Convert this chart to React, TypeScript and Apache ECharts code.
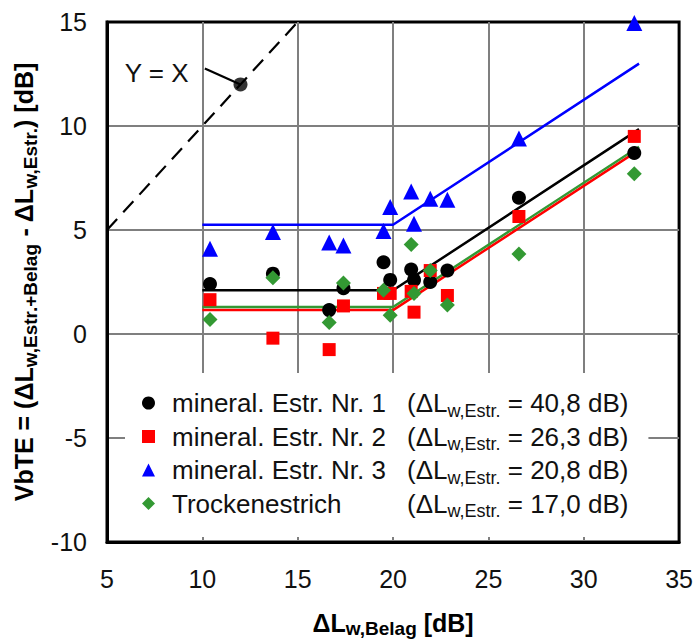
import React, { useEffect, useRef } from "react";
import * as echarts from "echarts";

// ---- data ----
const belagX = [10.4, 13.7, 16.65, 17.4, 19.5, 19.85, 20.95, 21.1, 21.95, 22.85, 26.6, 32.65];
const estrich1 = [2.4, 2.9, 1.15, 2.2, 3.45, 2.6, 3.1, 2.6, 2.5, 3.05, 6.55, 8.7];
const estrich2 = [1.65, -0.2, -0.75, 1.35, 1.95, 1.95, 2.05, 1.05, 3.05, 1.85, 5.65, 9.5];
const estrich3 = [4.1, 4.9, 4.4, 4.25, 4.95, 6.1, 6.85, 5.3, 6.5, 6.45, 9.4, 14.95];
const trocken = [0.7, 2.7, 0.55, 2.45, 2.1, 0.9, 4.3, 1.95, 3.05, 1.4, 3.85, 7.7];

const trend1 = [[10, 2.1], [20, 2.1], [32.9, 9.85]];
const trend2 = [[10, 1.15], [20, 1.15], [32.9, 8.85]];
const trend3 = [[10, 5.25], [20, 5.25], [32.9, 13.0]];
const trendT = [[10, 1.3], [20, 1.3], [32.9, 9.0]];

const identityLine = [[5, 5], [15, 15]];
const annotPoint = [[12, 12]];
const annotLeader = [[10.13, 12.77], [12, 12]];
const annotTextPos = [[7.6, 12.55]];
const annotText = "Y = X";

const seriesNames = ["mineral. Estr. Nr. 1", "mineral. Estr. Nr. 2", "mineral. Estr. Nr. 3", "Trockenestrich"];
const estrichDeltaL = ["40,8", "26,3", "20,8", "17,0"];
const seriesColors = ["#000000", "#ff0000", "#0000ff", "#339933"];
const seriesSymbols = ["circle", "rect", "triangle", "diamond"];
const seriesSizes = [14, 13, 16, 15];

const xMin = 5, xMax = 35, xStep = 5;
const yMin = -10, yMax = 15, yStep = 5;

const FONT = "'Liberation Sans', Arial, sans-serif";

export default function App() {
  const ref = useRef<HTMLDivElement>(null);
  useEffect(() => {
    if (!ref.current) return;
    const chart = echarts.init(ref.current, null, { renderer: "svg" });
    const values = [estrich1, estrich2, estrich3, trocken];
    const trends = [trend1, trend2, trend3, trendT];

    const lineSeries = trends.map((t, i) => ({
      name: "Trend " + (i + 1),
      type: "line",
      data: t,
      symbol: "none",
      lineStyle: { color: seriesColors[i], width: 2.5 },
      z: 2,
    }));
    const scatterSeries = values.map((v, i) => ({
      name: seriesNames[i],
      type: "scatter",
      data: belagX.map((x, j) => [x, v[j]]),
      symbol: seriesSymbols[i],
      symbolSize: seriesSizes[i],
      itemStyle: { color: seriesColors[i], opacity: 1 },
      z: 3,
    }));

    chart.setOption({
      animation: false,
      textStyle: { fontFamily: FONT },
      grid: {
        left: 107,
        right: 16,
        top: 22,
        bottom: 101,
        show: true,
        borderColor: "#000",
        borderWidth: 3,
        backgroundColor: "transparent",
      },
      xAxis: {
        type: "value",
        min: xMin,
        max: xMax,
        interval: xStep,
        axisLine: { show: true, onZero: false, lineStyle: { color: "#000", width: 3 } },
        axisTick: { show: false },
        axisLabel: { fontSize: 25, color: "#111", margin: 24, fontFamily: FONT },
        splitLine: { show: true, showMinLine: false, showMaxLine: false, lineStyle: { color: "#7f7f7f", width: 2 } },
        name: "{m|ΔL}{s|w,Belag}{m| [dB]}",
        nameLocation: "middle",
        nameGap: 66,
        nameTextStyle: {
          rich: {
            m: { fontSize: 25, fontWeight: "bold", lineHeight: 30, color: "#000", fontFamily: FONT },
            s: { fontSize: 19, fontWeight: "bold", lineHeight: 19, verticalAlign: "bottom", color: "#000", fontFamily: FONT },
          },
        },
      },
      yAxis: {
        type: "value",
        min: yMin,
        max: yMax,
        interval: yStep,
        axisLine: { show: true, onZero: false, lineStyle: { color: "#000", width: 3 } },
        axisTick: { show: false },
        axisLabel: { fontSize: 25, color: "#111", margin: 20, fontFamily: FONT },
        splitLine: { show: true, showMinLine: false, showMaxLine: false, lineStyle: { color: "#7f7f7f", width: 2 } },
        name: "{m|VbTE = (ΔL}{s|w,Estr.+Belag}{m| - ΔL}{s|w,Estr.}{m|) [dB]}",
        nameLocation: "middle",
        nameRotate: 90,
        nameGap: 60,
        nameTextStyle: {
          rich: {
            m: { fontSize: 25, fontWeight: "bold", lineHeight: 32, color: "#000", fontFamily: FONT },
            s: { fontSize: 19, fontWeight: "bold", lineHeight: 20, verticalAlign: "bottom", color: "#000", fontFamily: FONT },
          },
        },
      },
      legend: {
        data: seriesNames,
        orient: "vertical",
        left: 125,
        top: 373,
        padding: [17, 20, 17, 17],
        itemGap: 4,
        itemWidth: 13,
        itemHeight: 13,
        backgroundColor: "#fff",
        formatter: (name: string) => {
          const i = seriesNames.indexOf(name);
          return `{g| }{a|${name}}{m|(ΔL}{s|w,Estr.}{m| = ${estrichDeltaL[i]} dB)}`;
        },
        textStyle: {
          fontFamily: FONT,
          rich: {
            g: { width: 12, fontSize: 26, lineHeight: 33 },
            a: { width: 235, fontSize: 26, lineHeight: 33, color: "#111", fontFamily: FONT },
            m: { fontSize: 26, lineHeight: 33, color: "#111", fontFamily: FONT },
            s: { fontSize: 18, lineHeight: 21, verticalAlign: "bottom", color: "#111", fontFamily: FONT },
          },
        },
      },
      series: [
        {
          name: "Y = X",
          type: "line",
          data: identityLine,
          symbol: "none",
          lineStyle: { color: "#000", width: 2.2, type: [15, 9] },
          z: 2,
        },
        {
          name: "leader",
          type: "line",
          data: annotLeader,
          symbol: "none",
          lineStyle: { color: "#000", width: 2.2 },
          z: 2,
        },
        {
          name: "annotPoint",
          type: "scatter",
          data: annotPoint,
          symbol: "circle",
          symbolSize: 14,
          itemStyle: { color: "#000" },
          z: 3,
        },
        {
          name: "annotText",
          type: "scatter",
          data: annotTextPos,
          symbolSize: 0,
          itemStyle: { color: "#000" },
          label: {
            show: true,
            position: "inside",
            formatter: annotText,
            fontSize: 26,
            color: "#111",
            opacity: 1,
            fontFamily: FONT,
          },
          z: 3,
        },
        ...lineSeries,
        ...scatterSeries,
      ],
    });
    return () => chart.dispose();
  }, []);
  return (
    <div
      ref={ref}
      style={{ position: "fixed", left: 0, top: 0, width: 696, height: 643, background: "#fff" }}
    />
  );
}
